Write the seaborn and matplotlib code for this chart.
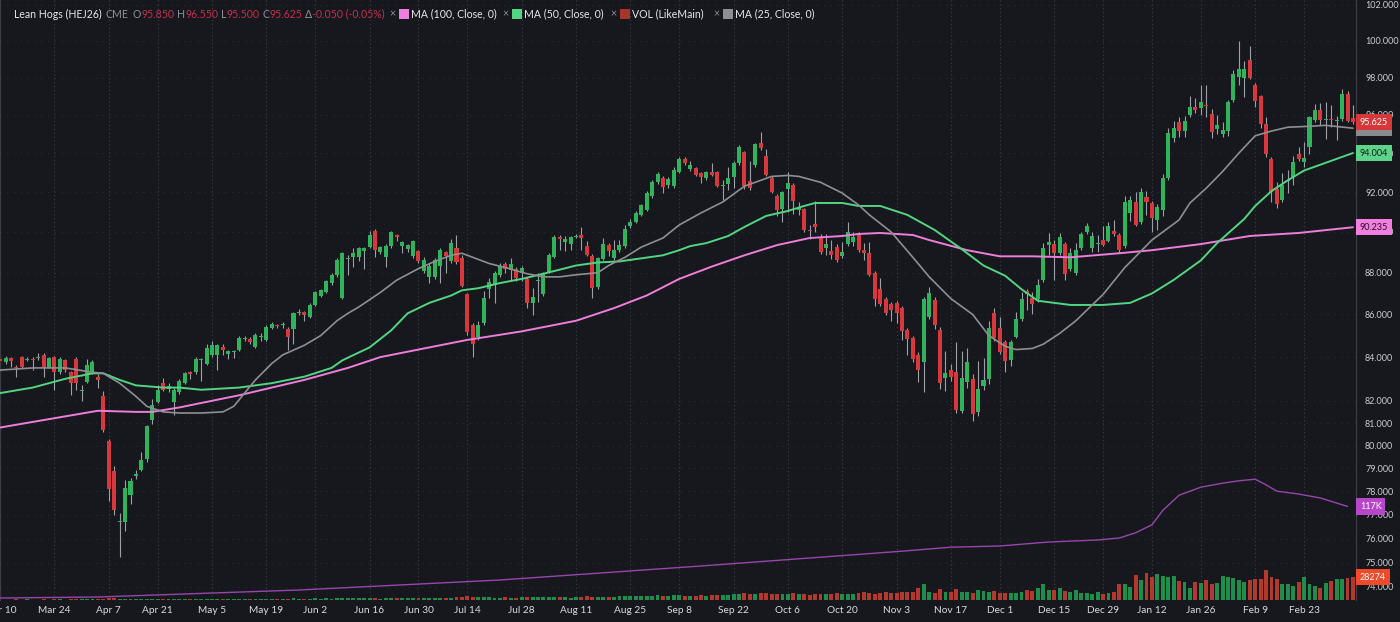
import numpy as np
import pandas as pd
import matplotlib
matplotlib.use("Agg")
import matplotlib.pyplot as plt
import matplotlib.transforms as mtransforms
from matplotlib.patches import Rectangle
from matplotlib.ticker import FixedLocator, NullLocator
import seaborn as sns

# trading calendar (CME holidays removed)
holidays = ["2025-04-18", "2025-05-26", "2025-06-19", "2025-07-04", "2025-09-01",
            "2025-11-27", "2025-12-25", "2026-01-01", "2026-01-19", "2026-02-16"]
dates = pd.bdate_range("2025-03-10", "2026-03-06", freq="C", holidays=holidays)

opens = [
    83.9, 83.75, 83.95, 83.55, 84.0, 83.85, 83.9, 83.95, 84.1, 83.55,
    84.0, 83.3, 83.85, 83.3, 83.9, 82.45, 82.85, 83.3, 83.1, 82.2,
    80.2, 78.9, 76.7, 76.7, 77.85, 78.65, 78.95, 79.4, 81.15, 81.95,
    82.8, 82.55, 81.95, 82.4, 82.8, 83.3, 83.3, 83.85, 83.7, 84.1,
    84.1, 84.45, 84.15, 84.25, 84.35, 84.85, 84.85, 84.45, 84.95, 84.8,
    85.35, 85.5, 85.5, 85.3, 85.3, 86.05, 86.1, 85.9, 86.45, 86.9,
    87.05, 87.5, 87.9, 86.8, 88.65, 88.75, 88.75, 89.05, 89.25, 90.05,
    89.0, 88.75, 89.3, 89.85, 89.3, 89.15, 88.8, 89.05, 88.1, 87.8,
    87.8, 88.35, 89.0, 88.55, 89.2, 88.7, 86.95, 85.5, 84.95, 85.6,
    87.2, 87.45, 87.9, 88.4, 88.15, 88.2, 88.0, 87.7, 86.55, 87.6,
    86.95, 88.05, 88.75, 89.75, 89.5, 89.4, 89.75, 89.85, 89.3, 88.8,
    87.3, 88.65, 89.35, 88.7, 89.1, 89.3, 90.3, 90.5, 90.85, 91.1,
    91.8, 92.5, 92.7, 92.35, 92.3, 93.0, 93.7, 93.2, 93.25, 92.95,
    92.7, 93.0, 93.0, 92.3, 92.4, 92.75, 93.5, 94.05, 92.55, 93.4,
    94.55, 93.85, 92.7, 91.8, 91.15, 92.15, 92.35, 91.1, 91.15, 90.1,
    90.4, 89.7, 89.2, 89.05, 89.25, 88.8, 89.4, 89.5, 89.85, 89.1,
    88.95, 88.0, 87.2, 86.75, 86.5, 86.55, 86.3, 85.25, 84.9, 84.1,
    83.75, 85.9, 86.7, 85.25, 83.05, 83.4, 83.3, 81.55, 82.85, 83.0,
    81.5, 82.65, 83.0, 86.05, 85.35, 84.7, 83.85, 84.95, 85.8, 87.1,
    86.8, 86.75, 87.65, 89.35, 89.4, 88.95, 89.4, 88.2, 88.0, 89.2,
    90.0, 89.2, 89.4, 89.6, 89.55, 90.05, 89.85, 89.3, 90.95, 91.5,
    90.5, 91.75, 91.45, 90.6, 91.1, 92.7, 94.8, 95.6, 95.15, 96.0,
    96.4, 96.35, 96.5, 96.05, 95.25, 95.0, 95.15, 96.8, 98.05, 98.0,
    98.95, 97.6, 97.0, 95.5, 93.7, 92.15, 91.6, 92.55, 92.75, 93.95,
    93.55, 94.3, 95.75, 96.25, 95.75, 95.8, 95.7, 95.8, 97.1, 95.85,
]
highs = [
    84.1, 84.05, 84.0, 83.65, 84.05, 84.0, 84.0, 84.2, 84.2, 84.0,
    84.05, 84.0, 83.9, 83.35, 84.0, 82.7, 83.9, 83.85, 83.2, 82.45,
    80.3, 79.1, 77.1, 78.5, 78.6, 78.95, 79.7, 80.9, 82.1, 82.7,
    83.05, 82.8, 82.6, 83.0, 83.3, 83.35, 84.0, 83.95, 84.6, 84.75,
    84.6, 84.6, 84.35, 84.35, 85.0, 85.0, 84.95, 85.1, 85.1, 85.5,
    85.65, 85.55, 85.65, 85.4, 86.1, 86.25, 86.15, 86.55, 87.1, 87.2,
    87.65, 88.0, 88.7, 89.0, 88.85, 89.2, 89.25, 89.25, 90.05, 90.15,
    89.3, 89.4, 90.05, 89.9, 89.55, 89.4, 89.6, 89.1, 88.75, 88.45,
    88.7, 89.2, 89.05, 89.65, 89.85, 88.85, 87.0, 85.6, 85.7, 87.1,
    87.75, 88.1, 88.45, 88.5, 88.7, 88.3, 88.35, 87.8, 87.25, 88.0,
    88.05, 88.95, 89.85, 89.85, 89.8, 89.8, 89.9, 90.25, 89.55, 88.9,
    88.75, 89.7, 89.45, 89.6, 89.6, 90.35, 90.65, 91.05, 91.4, 92.05,
    92.6, 93.05, 92.8, 92.75, 93.3, 93.8, 93.8, 93.6, 93.3, 93.0,
    93.1, 93.5, 93.1, 92.6, 93.3, 93.6, 94.4, 94.1, 93.6, 94.5,
    95.1, 94.2, 92.8, 91.9, 92.05, 93.0, 92.45, 91.5, 91.2, 90.35,
    91.55, 89.9, 89.9, 89.6, 89.4, 89.5, 90.5, 90.0, 90.0, 89.45,
    89.5, 88.1, 87.75, 86.85, 86.6, 86.65, 86.4, 85.35, 85.0, 84.25,
    86.85, 87.3, 86.85, 85.4, 84.3, 83.7, 84.7, 84.3, 84.4, 83.2,
    83.8, 83.95, 85.7, 86.3, 85.9, 84.8, 84.8, 86.1, 87.05, 87.2,
    87.05, 87.7, 89.45, 89.95, 89.6, 89.95, 89.5, 89.2, 89.45, 90.0,
    90.45, 90.0, 89.85, 90.3, 90.5, 90.6, 89.95, 91.8, 91.8, 92.0,
    92.2, 92.05, 91.55, 91.4, 92.9, 95.3, 95.7, 95.9, 95.95, 97.0,
    96.9, 97.6, 97.6, 96.3, 96.0, 95.6, 96.8, 98.4, 100.0, 98.9,
    99.7, 97.7, 97.05, 95.9, 93.8, 92.5, 92.95, 93.15, 93.85, 94.3,
    94.6, 95.95, 96.6, 96.65, 96.7, 96.5, 95.95, 97.4, 97.3, 96.55,
]
lows = [
    83.7, 83.7, 83.55, 83.1, 83.5, 83.8, 83.4, 83.85, 83.1, 83.5,
    82.5, 83.2, 83.3, 82.25, 82.5, 82.0, 82.8, 83.2, 82.6, 80.6,
    77.6, 77.0, 75.25, 76.3, 77.45, 78.55, 78.9, 79.3, 80.95, 81.9,
    82.45, 82.4, 81.35, 82.3, 82.75, 83.0, 83.2, 82.9, 83.65, 84.0,
    83.4, 84.1, 83.9, 83.95, 84.3, 84.75, 84.6, 84.4, 84.75, 84.75,
    85.3, 85.35, 85.35, 84.35, 84.6, 85.95, 85.7, 85.85, 86.4, 86.85,
    87.0, 87.4, 87.8, 86.75, 87.9, 88.3, 88.55, 88.2, 89.2, 88.75,
    88.9, 88.3, 89.2, 89.55, 88.95, 89.0, 88.7, 88.45, 88.0, 87.5,
    87.7, 87.5, 88.0, 88.45, 88.4, 87.3, 85.05, 84.0, 84.8, 85.5,
    86.8, 86.55, 87.8, 88.0, 87.6, 87.6, 87.6, 86.3, 85.95, 86.6,
    86.9, 88.0, 88.7, 89.1, 89.05, 89.1, 89.7, 89.1, 88.8, 86.8,
    87.2, 88.6, 88.8, 88.6, 89.0, 89.2, 90.2, 90.45, 90.8, 91.05,
    91.7, 92.4, 91.95, 92.2, 92.2, 92.95, 93.4, 93.1, 92.8, 92.45,
    92.6, 92.8, 92.25, 91.6, 92.1, 92.2, 93.4, 92.15, 92.1, 93.3,
    94.15, 92.8, 91.95, 90.8, 90.5, 91.0, 90.9, 90.85, 90.0, 89.65,
    90.0, 88.9, 88.85, 88.65, 88.5, 88.7, 89.3, 89.3, 89.0, 88.6,
    87.85, 86.4, 86.4, 85.95, 85.7, 85.6, 84.8, 84.1, 83.75, 82.85,
    82.4, 85.8, 85.3, 82.55, 82.45, 82.9, 81.45, 81.45, 82.6, 81.1,
    81.3, 82.5, 82.75, 84.75, 84.15, 83.3, 83.6, 84.9, 85.7, 86.2,
    86.0, 86.6, 87.55, 88.85, 87.65, 88.85, 87.65, 88.1, 87.9, 89.1,
    89.9, 89.0, 89.0, 89.3, 89.5, 89.8, 88.95, 89.2, 90.55, 90.3,
    90.4, 90.85, 90.0, 90.1, 90.8, 92.6, 94.6, 94.85, 94.85, 95.9,
    96.1, 96.0, 95.9, 94.8, 95.0, 94.85, 94.9, 96.7, 97.6, 96.95,
    97.9, 96.4, 95.3, 93.8, 91.5, 91.2, 91.5, 91.95, 92.35, 93.6,
    93.3, 93.95, 95.65, 95.45, 94.75, 95.35, 94.7, 95.7, 95.6, 95.5,
]
closes = [
    83.8, 83.95, 83.82, 83.5, 83.55, 83.9, 83.88, 84.0, 83.55, 83.95,
    83.3, 83.9, 83.4, 82.8, 82.8, 82.5, 83.65, 83.75, 82.95, 80.7,
    78.1, 77.2, 76.75, 78.15, 78.45, 78.75, 79.35, 80.85, 81.8, 82.5,
    82.5, 82.65, 82.5, 82.9, 83.25, 83.2, 83.9, 83.9, 84.4, 84.55,
    84.55, 84.35, 84.3, 84.3, 84.9, 84.9, 84.7, 85.05, 85.0, 85.4,
    85.55, 85.45, 85.55, 84.95, 86.05, 86.1, 85.95, 86.45, 87.05, 87.15,
    87.6, 87.9, 88.6, 88.95, 88.7, 88.95, 89.2, 89.2, 89.85, 89.1,
    89.25, 89.3, 90.0, 89.75, 89.5, 89.35, 89.55, 88.55, 88.6, 88.35,
    88.6, 89.1, 88.8, 89.45, 88.5, 87.35, 85.15, 84.6, 85.5, 86.8,
    87.55, 88.0, 88.35, 88.2, 88.4, 87.75, 88.25, 86.55, 86.85, 87.65,
    88.0, 88.85, 89.75, 89.65, 89.65, 89.75, 89.8, 89.7, 88.85, 87.25,
    88.7, 89.4, 89.05, 89.1, 89.35, 90.15, 90.5, 90.95, 91.35, 91.95,
    92.5, 92.9, 92.25, 92.65, 93.15, 93.7, 93.5, 93.4, 92.85, 92.75,
    93.0, 92.85, 92.3, 92.35, 92.7, 93.5, 94.3, 92.3, 92.2, 94.45,
    94.25, 92.85, 92.0, 91.1, 92.0, 92.45, 91.55, 91.2, 90.1, 90.05,
    90.25, 89.0, 89.4, 88.85, 88.6, 89.0, 90.0, 89.75, 89.1, 88.95,
    87.9, 86.75, 86.5, 86.05, 86.2, 86.05, 85.2, 84.85, 83.9, 83.4,
    86.75, 87.0, 85.5, 82.8, 83.25, 83.1, 81.6, 83.05, 83.75, 81.4,
    82.55, 82.95, 85.35, 84.9, 84.25, 83.8, 84.7, 85.8, 86.75, 86.95,
    86.5, 87.4, 89.2, 89.5, 88.95, 89.75, 87.95, 88.95, 89.1, 89.9,
    90.3, 89.8, 89.45, 89.35, 90.3, 89.9, 89.1, 91.5, 91.6, 90.35,
    92.0, 91.5, 90.7, 91.25, 92.7, 95.05, 95.3, 95.15, 95.7, 96.4,
    96.25, 96.7, 96.45, 95.1, 95.45, 95.2, 96.7, 98.2, 98.45, 98.45,
    98.0, 96.75, 95.5, 93.95, 92.0, 91.4, 92.35, 92.6, 93.55, 93.7,
    93.75, 95.9, 96.25, 95.75, 95.8, 95.75, 95.75, 97.1, 95.675, 95.625,
]

# daily volume, thousands of contracts
volume_k = [
    0.4, 0.6, 0.5, 0.8, 0.5, 0.7, 0.6, 0.4, 0.9, 0.6,
    0.8, 0.7, 0.5, 1.0, 1.2, 0.9, 1.1, 0.8, 0.9, 1.5,
    2.2, 2.0, 1.8, 1.6, 1.2, 0.9, 1.0, 1.3, 1.1, 0.9,
    0.8, 0.7, 1.0, 0.9, 0.8, 0.7, 1.1, 0.9, 0.8, 1.0,
    1.2, 1.0, 0.9, 1.3, 1.1, 1.4, 1.2, 1.0, 1.5, 1.3,
    1.6, 1.2, 1.4, 1.8, 2.0, 1.5, 1.3, 1.7, 1.9, 1.6,
    2.1, 1.8, 2.4, 3.0, 2.2, 2.0, 1.9, 2.3, 2.6, 2.1,
    1.8, 2.2, 2.5, 2.0, 1.9, 2.4, 2.2, 2.0, 2.6, 2.3,
    2.5, 2.8, 2.4, 3.0, 3.4, 3.8, 4.5, 4.2, 3.6, 3.9,
    3.2, 3.0, 2.8, 3.3, 3.1, 2.9, 3.5, 3.8, 3.4, 3.2,
    3.6, 3.9, 4.1, 3.5, 3.3, 3.0, 3.4, 3.8, 4.4, 4.0,
    3.7, 3.5, 3.9, 4.2, 4.6, 4.4, 4.8, 5.0, 5.4, 5.2,
    5.6, 5.9, 5.3, 5.0, 5.8, 6.2, 5.5, 5.1, 5.6, 5.9,
    5.3, 5.7, 6.4, 6.0, 6.6, 7.2, 7.8, 8.4, 7.0, 7.6,
    8.2, 8.8, 7.4, 7.0, 8.0, 7.6, 8.6, 7.8, 7.2, 6.8,
    7.4, 6.9, 7.2, 7.8, 8.4, 7.6, 7.0, 7.9, 8.6, 9.4,
    8.2, 7.8, 8.8, 9.6, 8.4, 9.0,
    10.4, 9.6, 10.0, 14.6, 20.0, 10.4, 9.2, 13.3, 10.4, 10.4,
    13.3, 10.4, 10.4, 9.2, 12.5, 11.7, 10.4, 11.2, 8.3, 8.3,
    9.2, 8.3, 10.4, 12.5, 11.7, 14.6, 20.0, 12.5, 12.5, 14.6,
    11.2, 10.4, 12.5, 9.2, 8.3, 7.1, 10.4, 7.5, 9.2, 9.6,
    19.6, 20.0, 15.8, 31.3, 25.0, 33.3, 29.2, 32.5, 30.0, 29.2,
    30.0, 24.2, 22.9, 14.6, 22.9, 21.7, 25.0, 20.0, 20.8, 30.4,
    29.2, 27.1, 25.0, 22.9, 25.0, 25.8, 25.8, 37.5, 28.3, 26.3,
    20.0, 19.6, 17.5, 22.9, 28.3, 20.0, 17.5, 14.6, 20.8, 24.2,
    25.8, 25.8, 27.9, 28.274,
]

# moving averages at these bar numbers
ma25_bar = [0, 6, 12, 17, 19, 22, 25, 27, 30, 33, 37, 41, 43, 45, 47, 50, 52, 56, 59, 62,
            64, 66, 70, 73, 77, 80, 83, 85, 87, 90, 93, 97, 100, 103, 106, 110, 112, 115, 118, 122,
            125, 129, 133, 137, 142, 145, 147, 151, 155, 158, 160, 164, 168, 171, 175, 179, 182, 185, 187, 190,
            192, 195, 198, 203, 207, 212, 217, 219, 222, 225, 228, 231, 234, 237, 241, 244, 249]
ma25_val = [83.4, 83.5, 83.5, 83.3, 83.25, 82.8, 82.2, 81.75, 81.5, 81.45, 81.45, 81.5, 81.75, 82.35, 82.95, 83.7, 84.1, 84.55, 85.0, 85.7,
            86.05, 86.35, 87.05, 87.64, 88.2, 88.55, 88.85, 88.95, 88.75, 88.45, 88.25, 87.95, 87.8, 87.8, 87.9, 88.0, 88.35, 88.75, 89.25, 89.7,
            90.35, 90.95, 91.5, 92.3, 92.8, 92.85, 92.8, 92.5, 91.95, 91.35, 90.85, 90.0, 88.75, 87.8, 86.75, 86.0, 85.0, 84.5, 84.35, 84.4,
            84.6, 85.1, 85.7, 86.95, 88.25, 89.6, 90.6, 91.45, 92.2, 93.05, 94.0, 94.9, 95.15, 95.35, 95.4, 95.45, 95.3]

ma50_bar = [0, 6, 12, 17, 19, 22, 25, 30, 33, 37, 44, 50, 56, 61, 63, 68, 72, 75, 79, 83,
            85, 88, 92, 96, 100, 103, 106, 110, 114, 118, 122, 125, 127, 130, 134, 137, 141, 145, 148, 150,
            155, 158, 162, 167, 172, 177, 181, 185, 188, 191, 197, 203, 208, 212, 216, 221, 224, 229, 231, 234,
            237, 240, 243, 249]
ma50_val = [82.35, 82.6, 83.0, 83.25, 83.25, 82.95, 82.7, 82.6, 82.6, 82.5, 82.6, 82.8, 83.1, 83.5, 83.85, 84.45, 85.25, 86.05, 86.55, 86.9,
            87.15, 87.25, 87.5, 87.7, 87.95, 88.15, 88.35, 88.5, 88.55, 88.7, 88.85, 89.1, 89.3, 89.45, 89.8, 90.25, 90.8, 91.05, 91.3, 91.45,
            91.45, 91.3, 91.3, 90.85, 90.1, 89.15, 88.35, 87.85, 87.2, 86.65, 86.45, 86.45, 86.55, 87.0, 87.65, 88.6, 89.45, 90.65, 91.3, 92.05,
            92.6, 93.1, 93.4, 94.004]

ma100_bar = [0, 6, 12, 18, 25, 28, 33, 37, 44, 50, 56, 64, 70, 78, 86, 96, 106, 113, 119, 125,
             131, 137, 143, 149, 155, 158, 162, 168, 171, 178, 184, 190, 197, 206, 212, 221, 230, 239, 249]
ma100_val = [80.8, 81.05, 81.3, 81.55, 81.5, 81.5, 81.7, 81.9, 82.25, 82.6, 82.95, 83.5, 84.0, 84.4, 84.8, 85.2, 85.7, 86.3, 86.9, 87.7,
             88.3, 88.85, 89.35, 89.7, 89.8, 89.9, 89.95, 89.85, 89.6, 89.1, 88.8, 88.8, 88.75, 88.95, 89.1, 89.4, 89.8, 89.95, 90.235]

# open interest line of the volume pane, thousands of contracts
oi_bar = [0, 18, 55, 92, 129, 166, 175, 184, 193, 202, 206, 209, 212, 214, 217, 221, 225, 228, 231, 233,
          235, 239, 243, 248]
oi_k = [2.5, 3.75, 12.5, 25.0, 42.5, 61.0, 66.0, 67.5, 72.5, 75.0, 77.5, 84.0, 94.0, 112.0, 131.0, 141.0, 146.0, 149.0, 151.0, 144.0,
        136.0, 132.5, 127.5, 117.0]

price_ticks = [74, 75, 76, 77, 78, 79, 80, 81, 82, 84, 86, 88, 90, 92, 94, 96, 98, 100, 102]

BG = "#16181d"
UP = "#2fb45c"
DOWN = "#d8383c"
WICK = "#9aa0a6"
PINK = "#ee7edb"
LGREEN = "#52d583"
MGRAY = "#8e8f92"
PURPLE = "#9646ad"
VUP = "#1f8d4c"
VDOWN = "#b3392c"
GRID = "#3a3e46"
TICK = "#c9ccd1"

sns.set_theme(style="dark", rc={"axes.facecolor": BG, "figure.facecolor": BG})
plt.rcParams["font.family"] = ["Lato", "DejaVu Sans"]

fig = plt.figure(figsize=(14, 6.22), dpi=100, facecolor=BG)
ax = fig.add_axes([0, 1 - 600 / 622, 1356 / 1400, 600 / 622])
ax.set_facecolor(BG)

x = np.arange(len(dates))
o = np.array(opens)
h = np.array(highs)
l = np.array(lows)
c = np.array(closes)
up = c >= o
body_lo = np.minimum(o, c)
body_h = np.maximum(np.abs(c - o), 0.03)

# volume pane sits on a twin axis at the bottom
ax2 = ax.twinx()
vol_colors = np.where(up, VUP, VDOWN)
ax2.bar(x, volume_k, width=0.72, color=vol_colors, linewidth=0, zorder=2)
sns.lineplot(x=oi_bar, y=oi_k, ax=ax2, color=PURPLE, linewidth=1.0, zorder=3)
ax2.set_ylim(0, 750)
ax2.set_yticks([])
ax2.set_ylabel("")
for s in ax2.spines.values():
    s.set_visible(False)

# candles
ax.vlines(x, l, h, color=WICK, linewidth=0.8, zorder=2)
ax.bar(x[up], body_h[up], bottom=body_lo[up], width=0.74, color=UP, linewidth=0, zorder=3)
ax.bar(x[~up], body_h[~up], bottom=body_lo[~up], width=0.74, color=DOWN, linewidth=0, zorder=3)

sns.lineplot(x=ma100_bar, y=ma100_val, ax=ax, color=PINK, linewidth=1.4, zorder=4)
sns.lineplot(x=ma50_bar, y=ma50_val, ax=ax, color=LGREEN, linewidth=1.4, zorder=4)
sns.lineplot(x=ma25_bar, y=ma25_val, ax=ax, color=MGRAY, linewidth=1.2, zorder=4)

ax.set_yscale("log")
ax.set_ylim(73.47, 102.28)
ax.set_xlim(-0.02, 249.56)
ax.yaxis.set_major_locator(FixedLocator(price_ticks))
ax.yaxis.set_minor_locator(NullLocator())
ax.set_yticklabels([f"{t:.3f}" for t in price_ticks])
ax.yaxis.tick_right()
ax.tick_params(axis="y", length=0, pad=6.5, labelsize=6.5, labelcolor=TICK)

tick_dates = pd.date_range("2025-03-10", periods=26, freq="14D")
tick_pos = dates.get_indexer(tick_dates)
ax.set_xticks(tick_pos)
ax.set_xticklabels([f"{d:%b} {d.day}" for d in tick_dates])
ax.tick_params(axis="x", length=0, pad=4, labelsize=7.3, labelcolor="#d8dadd")
ax.set_xlabel("")
ax.set_ylabel("")

ax.xaxis.grid(True, color=GRID, linestyle=(0, (1, 2.5)), linewidth=0.8)
ax.yaxis.grid(True, color="#2e3138", linestyle=(0, (1, 6)), linewidth=0.7)
ax.set_axisbelow(True)
for name, s in ax.spines.items():
    s.set_visible(name in ("left", "right"))
    s.set_color("#3a3d44")
    s.set_linewidth(0.9)

# value tags on the price scale
shift = mtransforms.ScaledTranslation(4 / 100, 0, fig.dpi_scale_trans)


def tag(axis, value, text, fc, tc, z):
    axis.text(1.0, value, text, transform=axis.get_yaxis_transform() + shift,
              ha="left", va="center", fontsize=6.5, color=tc, clip_on=False, zorder=z,
              bbox=dict(boxstyle="square,pad=0.4", fc=fc, ec="none"))


tag(ax, ma25_val[-1], f"{ma25_val[-1]:.3f}", "#8a8b8e", "#8a8b8e", 6)
tag(ax, closes[-1], f"{closes[-1]:.3f}", "#d8373a", "white", 7)
tag(ax, ma50_val[-1], f"{ma50_val[-1]:.3f}", "#5ed38a", "#10241a", 7)
tag(ax, ma100_val[-1], f"{ma100_val[-1]:.3f}", "#f27fe0", "#2a1028", 7)
tag(ax2, oi_k[-1], f"{oi_k[-1]:.0f}K", "#b746cb", "white", 7)
tag(ax2, volume_k[-1], f"{volume_k[-1] * 1000:.0f}", "#f04a2b", "white", 7)

# header legend
renderer = fig.canvas.get_renderer()
LEG_Y = 1 - 14 / 622
WHITE = "#e4e6ea"
LGRAY = "#8d9096"
RED = "#c4304c"
LEG_FS = 7.6


def put_run(x_px, pieces):
    for txt, col, gap in pieces:
        t = fig.text(x_px / 1400, LEG_Y, txt, color=col, fontsize=LEG_FS, ha="left", va="center")
        x_px += t.get_window_extent(renderer=renderer).width + gap
    return x_px


def square(x_px, col):
    fig.add_artist(Rectangle((x_px / 1400, 1 - 19 / 622), 10 / 1400, 10 / 622,
                             transform=fig.transFigure, fc=col, ec="none"))


put_run(14, [("Lean Hogs (HEJ26)", WHITE, 4), ("CME", LGRAY, 4),
             ("O", LGRAY, 0), ("95.850", RED, 3), ("H", LGRAY, 0), ("96.550", RED, 3),
             ("L", LGRAY, 0), ("95.500", RED, 3), ("C", LGRAY, 0), ("95.625", RED, 3),
             ("Δ", LGRAY, 0), ("-0.050 (-0.05%)", RED, 0)])
for xs, xq, xt, col, label in [(389, 399, 411, PINK, "MA (100, Close, 0)"),
                               (502, 512, 524, LGREEN, "MA (50, Close, 0)"),
                               (610, 620, 632, "#a8352a", "VOL (LikeMain)"),
                               (713, 723, 735, MGRAY, "MA (25, Close, 0)")]:
    put_run(xs, [("×", LGRAY, 0)])
    square(xq, col)
    put_run(xt, [(label, WHITE, 0)])

fig.savefig("out.png", dpi=100, facecolor=fig.get_facecolor())
